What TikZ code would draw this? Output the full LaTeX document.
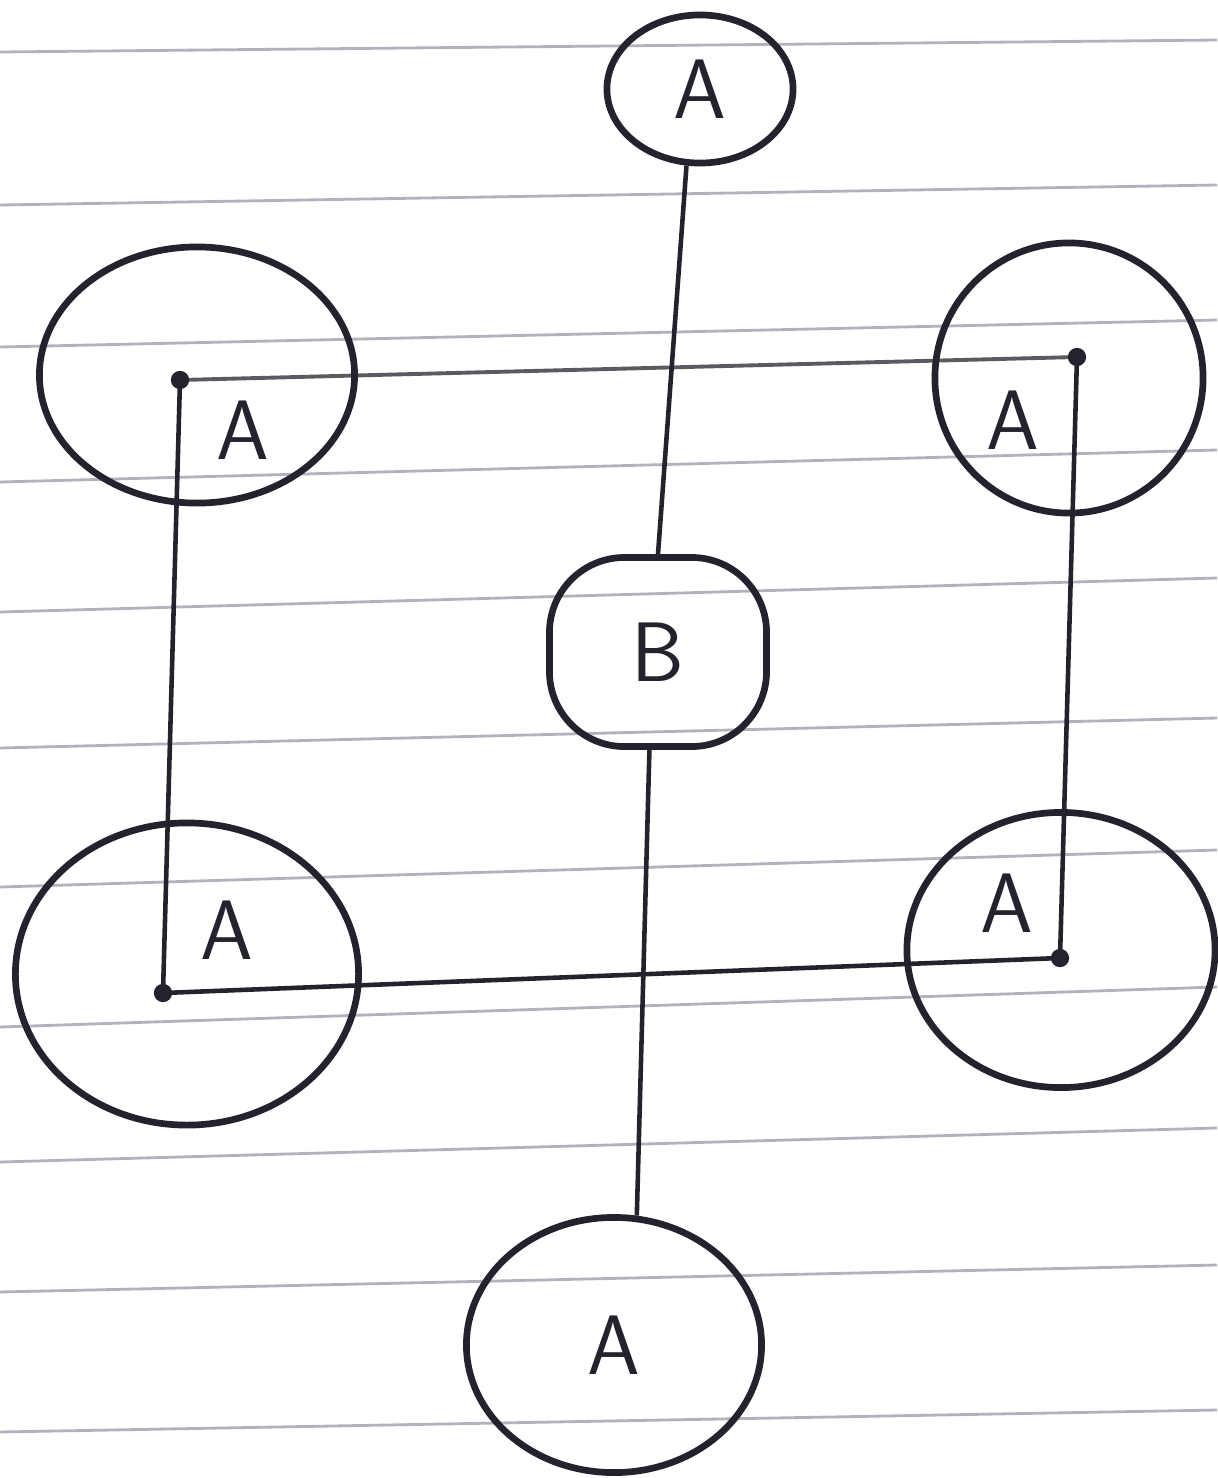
\documentclass[tikz,border=0pt]{standalone}
\usepackage{tikz}
\usetikzlibrary{shapes.geometric}
\definecolor{ink}{RGB}{35,35,45}
\definecolor{paperline}{RGB}{178,178,190}

\begin{document}
\begin{tikzpicture}[x=0.01cm, y=-0.01cm,
    ring/.style={ellipse, draw=ink, line width=1.9pt, inner sep=0pt, text=ink,
                 font=\sffamily\fontsize{24}{26}\selectfont},
    letter/.style={text=ink, font=\sffamily\fontsize{24}{26}\selectfont},
    wire/.style={draw=ink, line width=1.3pt},
    rule/.style={draw=paperline, line width=0.8pt}]
    \useasboundingbox (0,0) rectangle (1217,1478);

    % Ruled lines of the paper
    \foreach \yl/\yr in {52/40, 205/185, 347/320, 482/450, 612/578, 748/718,
                         887/850, 1027/987, 1162/1128, 1292/1265, 1432/1410}
        \draw[rule] (0,\yl) -- (1217,\yr);

    % Corner points of the loop
    \coordinate (ul-d) at (180,380);
    \coordinate (ur-d) at (1077,357);
    \coordinate (lr-d) at (1060,958);
    \coordinate (ll-d) at (163,993);

    % Loop through the four outer circles
    \draw[draw=ink!75, line width=1.1pt] (ul-d) -- (ur-d);
    \draw[wire] (ur-d) -- (lr-d) -- (ll-d) -- (ul-d);
    \foreach \p in {ul-d, ur-d, lr-d, ll-d}
        \fill[ink] (\p) circle (2.6pt);

    % Outer circles
    \node[ring, minimum width=3.15cm, minimum height=2.56cm] (ul) at (197,375) {};
    \node[ring, minimum width=2.68cm, minimum height=2.70cm] (ur) at (1069,378) {};
    \node[ring, minimum width=3.43cm, minimum height=3.02cm] (ll) at (187,974) {};
    \node[ring, minimum width=3.08cm, minimum height=2.75cm] (lr) at (1061,950) {};

    % Their letters
    \node[letter] (ul-t) at (243,430) {A};
    \node[letter] (ur-t) at (1013,420) {A};
    \node[letter] (ll-t) at (227,930) {A};
    \node[letter] (lr-t) at (1007,903) {A};

    % Middle column
    \node[ring, minimum width=1.86cm, minimum height=1.48cm] (top) at (700,89) {A};
    \node[ring, rectangle, rounded corners=0.75cm,
          minimum width=2.17cm, minimum height=1.89cm] (B) at (658,652) {B};
    \node[ring, minimum width=2.95cm, minimum height=2.55cm] (bot) at (614,1345) {A};

    % Vertical line through B
    \draw[wire] (top.-100) -- (B.north);
    \draw[wire] (B.-95) -- (bot.80);
\end{tikzpicture}
\end{document}
